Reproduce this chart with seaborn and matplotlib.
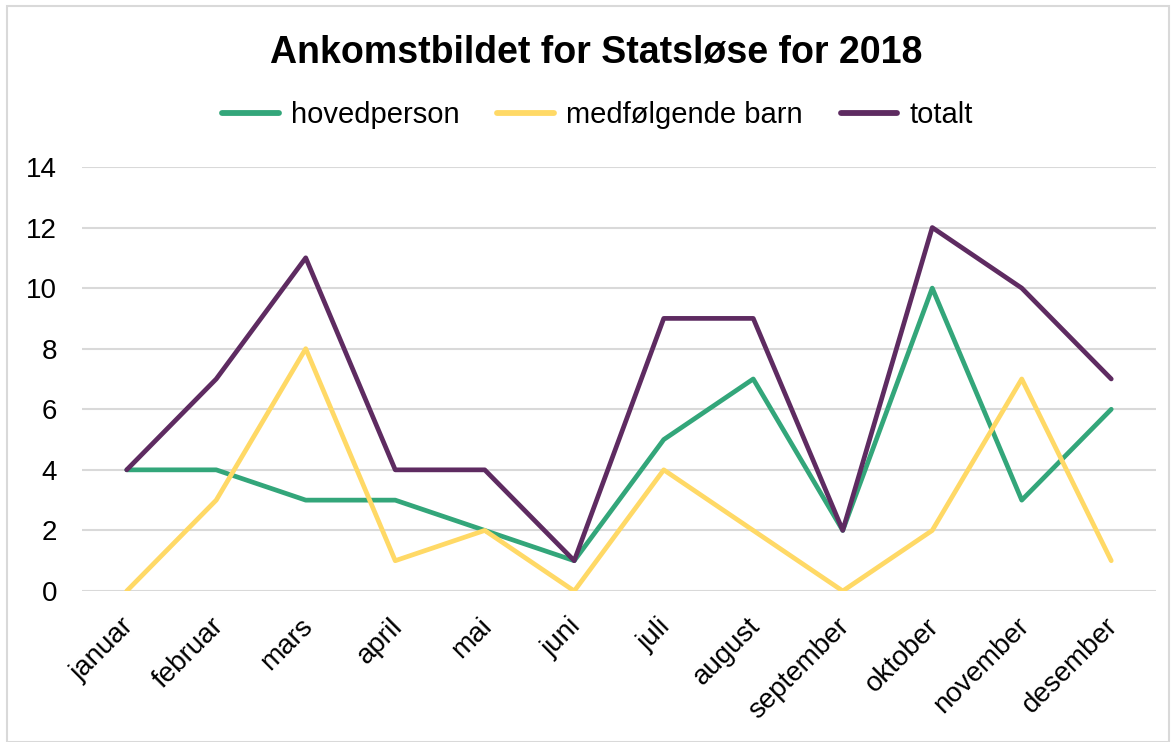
import pandas as pd
import matplotlib.pyplot as plt
import matplotlib.transforms as mtransforms
import seaborn as sns
from matplotlib.patches import Rectangle

months = ['januar', 'februar', 'mars', 'april', 'mai', 'juni', 'juli',
          'august', 'september', 'oktober', 'november', 'desember']
hovedperson = [4, 4, 3, 3, 2, 1, 5, 7, 2, 10, 3, 6]
medfolgende_barn = [0, 3, 8, 1, 2, 0, 4, 2, 0, 2, 7, 1]
totalt = [4, 7, 11, 4, 4, 1, 9, 9, 2, 12, 10, 7]

series = ['hovedperson', 'medfølgende barn', 'totalt']
colors = ['#33A67A', '#FFD966', '#5E2B61']

df = pd.DataFrame({
    'måned': months * 3,
    'x': list(range(len(months))) * 3,
    'antall': hovedperson + medfolgende_barn + totalt,
    'serie': [s for s in series for _ in months],
})

sns.set_style('white')
plt.rcParams['font.family'] = ['Liberation Sans', 'DejaVu Sans']
plt.rcParams['text.color'] = 'black'

fig = plt.figure(figsize=(11.76, 7.42), dpi=100)
ax = fig.add_axes([0.0697, 0.2035, 0.9133, 0.5715])

sns.lineplot(data=df, x='x', y='antall', hue='serie', hue_order=series,
             palette=colors, linewidth=3.4, ax=ax, legend=False)

ax.set_xlim(-0.5, len(months) - 0.5)
ax.set_ylim(0, 14)
ax.set_yticks(range(0, 15, 2))
ax.set_xticks(range(len(months)))
ax.set_xticklabels(months, rotation=45, ha='right', rotation_mode='anchor')
ax.tick_params(axis='both', labelsize=20, length=0, colors='black')
ax.tick_params(axis='x', pad=16)
ax.tick_params(axis='y', pad=18)
# nudge month labels a little to the left
shift = mtransforms.ScaledTranslation(-6 / 100, 0, fig.dpi_scale_trans)
for lbl in ax.get_xticklabels():
    lbl.set_transform(lbl.get_transform() + shift)
ax.set_xlabel('')
ax.set_ylabel('')
ax.grid(axis='y', color='#D9D9D9', linewidth=1.5)
ax.set_axisbelow(True)
for s in ax.spines.values():
    s.set_visible(False)

handles = [plt.Line2D([], [], color=c, linewidth=4.2, solid_capstyle='round') for c in colors]
fig.legend(handles, series, loc='center', bbox_to_anchor=(0.508, 0.845), ncol=3,
           frameon=False, fontsize=21, handlelength=1.95, columnspacing=1.3,
           handletextpad=0.4)

fig.suptitle('Ankomstbildet for Statsløse for 2018', x=0.507, y=0.954,
             fontsize=27, fontweight='bold', color='black')

fig.patches.append(Rectangle((0.006, 0.0), 0.988, 0.992, transform=fig.transFigure,
                             fill=False, edgecolor='#D9D9D9', linewidth=1.5))

fig.savefig('out.png', dpi=100)
